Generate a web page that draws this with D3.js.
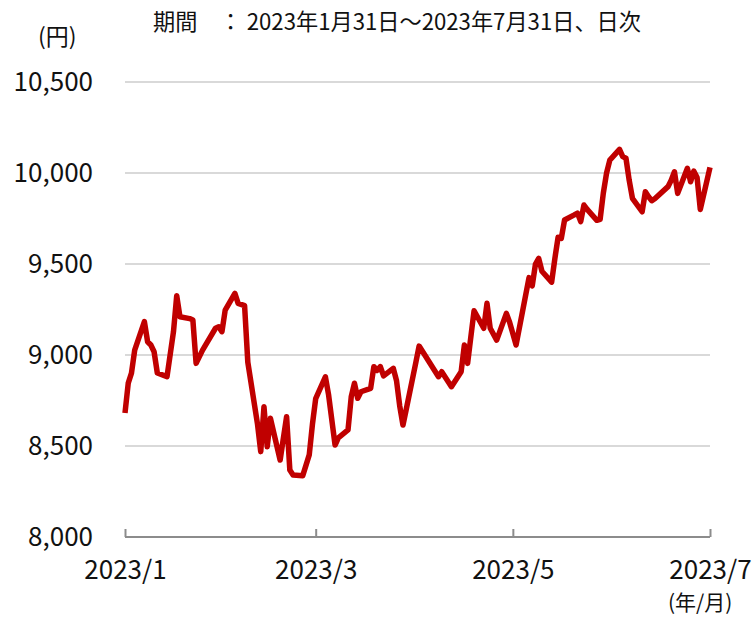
<!DOCTYPE html>
<html><head><meta charset="utf-8">
<script src="https://cdn.jsdelivr.net/npm/d3@7"></script>
<style>
html,body{margin:0;padding:0;background:#fff;}
text{font-family:"Noto Sans CJK JP","Noto Sans",sans-serif;fill:#111;}
</style></head>
<body>
<svg id="c" width="752" height="618"></svg>
<script>
const dates = ["2023-01-31","2023-02-01","2023-02-02","2023-02-03","2023-02-06","2023-02-07","2023-02-08","2023-02-09","2023-02-10","2023-02-13","2023-02-15","2023-02-16","2023-02-17","2023-02-20","2023-02-21","2023-02-22","2023-02-24","2023-02-28","2023-03-01","2023-03-02","2023-03-03","2023-03-06","2023-03-07","2023-03-09","2023-03-10","2023-03-13","2023-03-14","2023-03-15","2023-03-16","2023-03-17","2023-03-20","2023-03-22","2023-03-23","2023-03-24","2023-03-27","2023-03-29","2023-03-30","2023-03-31","2023-04-03","2023-04-04","2023-04-06","2023-04-07","2023-04-10","2023-04-11","2023-04-12","2023-04-13","2023-04-14","2023-04-17","2023-04-18","2023-04-19","2023-04-20","2023-04-21","2023-04-24","2023-04-25","2023-04-26","2023-04-27","2023-04-28","2023-05-01","2023-05-02","2023-05-08","2023-05-09","2023-05-12","2023-05-15","2023-05-16","2023-05-17","2023-05-19","2023-05-22","2023-05-23","2023-05-24","2023-05-26","2023-05-29","2023-05-30","2023-06-01","2023-06-05","2023-06-06","2023-06-07","2023-06-08","2023-06-09","2023-06-12","2023-06-13","2023-06-14","2023-06-15","2023-06-16","2023-06-19","2023-06-20","2023-06-21","2023-06-22","2023-06-23","2023-06-26","2023-06-27","2023-06-28","2023-06-29","2023-06-30","2023-07-03","2023-07-04","2023-07-05","2023-07-06","2023-07-07","2023-07-10","2023-07-11","2023-07-12","2023-07-13","2023-07-14","2023-07-18","2023-07-19","2023-07-20","2023-07-21","2023-07-24","2023-07-25","2023-07-26","2023-07-27","2023-07-28","2023-07-31"];
const prices = [8681,8845,8900,9027,9183,9073,9055,9018,8901,8881,9128,9326,9210,9200,9192,8954,9027,9147,9155,9128,9247,9339,9284,9271,8960,8620,8469,8716,8496,8652,8423,8661,8368,8341,8337,8451,8620,8760,8880,8780,8505,8545,8588,8771,8845,8762,8798,8817,8936,8915,8936,8885,8927,8860,8720,8615,8700,8960,9049,8881,8908,8826,8908,9055,8954,9243,9147,9284,9147,9082,9229,9180,9055,9425,9380,9500,9531,9460,9400,9530,9647,9641,9742,9770,9780,9733,9824,9800,9740,9745,9890,10000,10071,10130,10090,10081,9960,9861,9787,9897,9870,9848,9860,9925,9960,10007,9888,10026,9952,10010,9975,9800,10031];
const yTicks = [8000,8500,9000,9500,10000,10500];
const xTickDates = ["2023-01-31","2023-03-31","2023-05-31","2023-07-31"];
const xTickLabels = ["2023/1","2023/3","2023/5","2023/7"];
const title = "期間　：  2023年1月31日～2023年7月31日、日次";
const yUnit = "(円)";
const xUnit = "(年/月)";

const parse = d3.timeParse("%Y-%m-%d");
const data = dates.map((d,i)=>({date:parse(d), v:prices[i]}));
const svg = d3.select("#c");
const x = d3.scaleTime().domain([parse("2023-01-31"), parse("2023-07-31")]).range([125,710]);
const y = d3.scaleLinear().domain([8000,10500]).range([537,82]);

svg.append("g").selectAll("line").data(yTicks.filter(t=>t>8000)).join("line")
  .attr("x1",125).attr("x2",710).attr("y1",d=>y(d)).attr("y2",d=>y(d))
  .attr("stroke","#d9d9d9").attr("stroke-width",2);

svg.append("g").selectAll("text").data(yTicks).join("text")
  .attr("x",93).attr("y",d=>y(d)).attr("dy","0.36em").attr("text-anchor","end")
  .attr("font-size",26).text(d=>d3.format(",")(d));

const xa = svg.append("g").attr("transform","translate(0,537)")
  .call(d3.axisBottom(x).tickValues(xTickDates.map(parse)).tickSize(-8).tickFormat((d,i)=>xTickLabels[i]));
xa.select(".domain").attr("stroke","#8c8c8c").attr("stroke-width",2).attr("d","M125,0H710");
xa.selectAll(".tick line").attr("stroke","#8c8c8c").attr("stroke-width",2);
xa.selectAll(".tick text").attr("font-size",26).attr("y",33).attr("dy","0.36em")
  .style("font-family",'"Noto Sans CJK JP",sans-serif').attr("fill","#111");

svg.append("path").datum(data)
  .attr("d", d3.line().x(d=>x(d.date)).y(d=>y(d.v)))
  .attr("fill","none").attr("stroke","#c00000").attr("stroke-width",5.5).attr("stroke-linejoin","round");

svg.append("text").attr("x",153).attr("y",22).attr("dy","0.35em").attr("font-size",22.2).text(title);
svg.append("text").attr("x",38).attr("y",37).attr("dy","0.35em").attr("font-size",23).text(yUnit);
svg.append("text").attr("x",668).attr("y",603).attr("dy","0.35em").attr("font-size",21).text(xUnit);
</script>
</body></html>
